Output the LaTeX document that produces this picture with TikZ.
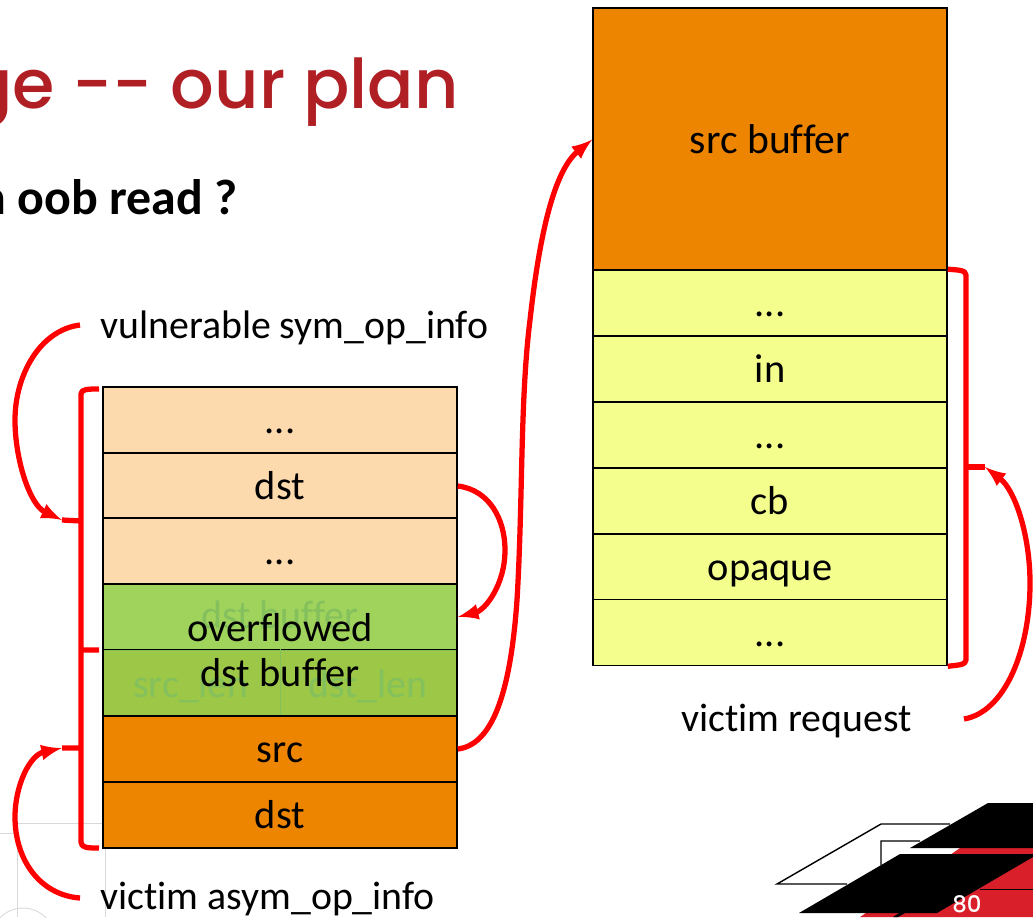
\documentclass[tikz,border=0pt]{standalone}
\usepackage{fontspec}
\setmainfont[Ligatures=NoCommon]{Carlito}
\newfontfamily\titlefont{Poppins Medium}
\usetikzlibrary{arrows,positioning,calc}
\definecolor{myred}{HTML}{FF0000}
\definecolor{mytitle}{HTML}{B01F24}
\definecolor{mypeach}{HTML}{FDDAAE}
\definecolor{mygreen}{HTML}{9FD35C}
\definecolor{mygreenb}{HTML}{9DC746}
\definecolor{myghost}{HTML}{84C05C}
\definecolor{myorange}{HTML}{EE8500}
\definecolor{myyellow}{HTML}{F4FE8C}
\definecolor{mylogored}{HTML}{D9202A}
\tikzset{
    box/.style={draw=black,line width=0.9pt,minimum width=7.08cm,minimum height=1.32cm,inner sep=0pt,font=\fontsize{23}{25.5}\selectfont},
    cell/.style={box,text height=18pt,text depth=2.2pt},
    label/.style={inner sep=0pt,font=\fontsize{22.65}{25}\selectfont},
    ghost/.style={label,text=myghost,anchor=base},
    bracket/.style={draw=myred,line width=3pt,line join=round},
    pointer/.style={bracket,-latex},
    backline/.style={draw=black!15,line width=0.5pt},
}
\begin{document}
\begin{tikzpicture}[x=0.02cm,y=-0.02cm]
    \useasboundingbox (0,0) rectangle (1033,917);
    \clip (0,0) rectangle (1033,917);

    % heading, cut off by the page
    \node[anchor=base east,inner sep=0pt,text=mytitle,font=\titlefont\fontsize{39}{46}\selectfont] (heading) at (459,108) {ge -- our plan};
    \node[anchor=base east,inner sep=0pt,font=\bfseries\fontsize{28.4}{32}\selectfont] (question) at (238,214) {n oob read ?};

    % slide background
    \draw[backline] (17,917) -- (17,823) -- (102,823) (105,823) -- (105,917);
    \draw[backline] (0,833) -- (15,833);
    \draw[backline] (23,940) circle (32);

    % left stack
    \foreach \name/\y/\txt in {topdots/420/{...},dstptr/486/dst,middots/551/{...}}{
        \node[cell,fill=mypeach] (\name) at (280,\y) {\txt};
    }
    \node[cell,fill=mygreen] (dstbuf) at (280,617) {};
    \node[cell,fill=mygreenb,minimum width=3.54cm,draw=none] (srclen) at (191.5,683) {};
    \node[cell,fill=mygreenb,minimum width=3.54cm,draw=none] (dstlen) at (368.5,683) {};
    \node[ghost] at (280,628) {dst buffer};
    \node[ghost] at (191,697) {src\_len};
    \node[ghost] at (368,697) {dst\_len};
    \draw[myghost,line width=0.5pt] (dstbuf.south west) -- (dstbuf.south east) (srclen.north east) -- (srclen.south east);
    \node[box,minimum height=2.64cm,align=center] (overflow) at (280,650) {overflowed\\dst buffer};
    \node[cell,fill=myorange] (srcptr) at (280,749) {src};
    \node[cell,fill=myorange] (dstlast) at (280,815) {dst};

    % right stack
    \node[box,fill=myorange,minimum height=5.26cm,font=\fontsize{23.7}{25.5}\selectfont] (srcbuf) at (770,139.5) {src buffer};
    \foreach \name/\y/\txt in {reqa/303/{...},reqin/369/in,reqb/435/{...},reqcb/501/cb,reqopaque/567/opaque,reqc/632.5/{...}}{
        \node[cell,fill=myyellow] (\name) at (770,\y) {\txt};
    }

    % labels
    \node[label,anchor=base west] (vuln) at (100,338) {vulnerable sym\_op\_info};
    \node[label,anchor=base west] (victim) at (100,909) {victim asym\_op\_info};
    \node[label,anchor=base west] (request) at (681,731) {victim request};

    \coordinate (vulntail) at (80,325);
    \coordinate (vulntip) at (62,520);
    \coordinate (victail) at (80,898);
    \coordinate (victip) at (62,748);
    \coordinate (reqtail) at (964,719);
    \coordinate (reqtip) at (985,467);

    % brackets
    \draw[bracket] (99,389) .. controls (88,389) and (81,389) .. (81,394) -- (81,842) .. controls (81,848) and (88,848) .. (99,848);
    \draw[bracket] (vulntip) -- (81,521) (victip) -- (81,748) (81,650) -- (99,650);
    \draw[bracket] (reqa.north east) .. controls (958,270) and (966,270) .. (966,275) -- (966,660) .. controls (966,665) and (958,665) .. (reqc.south east);
    \draw[bracket] (966,467) -- (reqtip);

    % arrows
    \draw[pointer] (vulntail) .. controls (40,330) and (15,375) .. (15,420) .. controls (15,460) and (30,505) .. (vulntip);
    \draw[pointer] (victail) .. controls (40,895) and (15,860) .. (15,817) .. controls (15,785) and (30,755) .. (victip);
    \draw[pointer] (reqtail) .. controls (1005,712) and (1030,650) .. (1030,583) .. controls (1030,535) and (1015,490) .. (reqtip);
    \draw[pointer] (dstptr.east) .. controls (490,490) and (505,520) .. (505,550) .. controls (505,585) and (485,610) .. (dstbuf.east);
    \draw[pointer] (srcptr.east) .. controls (490,745) and (510,700) .. (517,600) .. controls (523,500) and (520,400) .. (530,320) .. controls (540,230) and (555,170) .. (srcbuf.west);

    % logo in the corner
    \draw[black,line width=0.8pt] (950,824) -- (881,824) -- (777,884) -- (847,884) (920,841) -- (881,841) -- (881,865);
    \fill[mylogored] (960,848) -- (1033,848) -- (1033,917) -- (860,917) -- (900,890) -- cycle;
    \fill[black] (988,803) -- (1033,803) -- (1033,848) -- (910,848) -- cycle;
    \fill[black] (900,854) -- (1033,854) -- (1033,857) -- (937,913) -- (799,913) -- cycle;
    \fill[black] (893,917) -- (899,913) -- (905,913) -- (898,917) -- cycle;
    \draw[black,line width=0.5pt] (980,889) -- (1033,889);
    \node[text=white,inner sep=0pt,font=\titlefont\fontsize{13}{15}\selectfont] (pagenum) at (967,904) {80};
\end{tikzpicture}
\end{document}
